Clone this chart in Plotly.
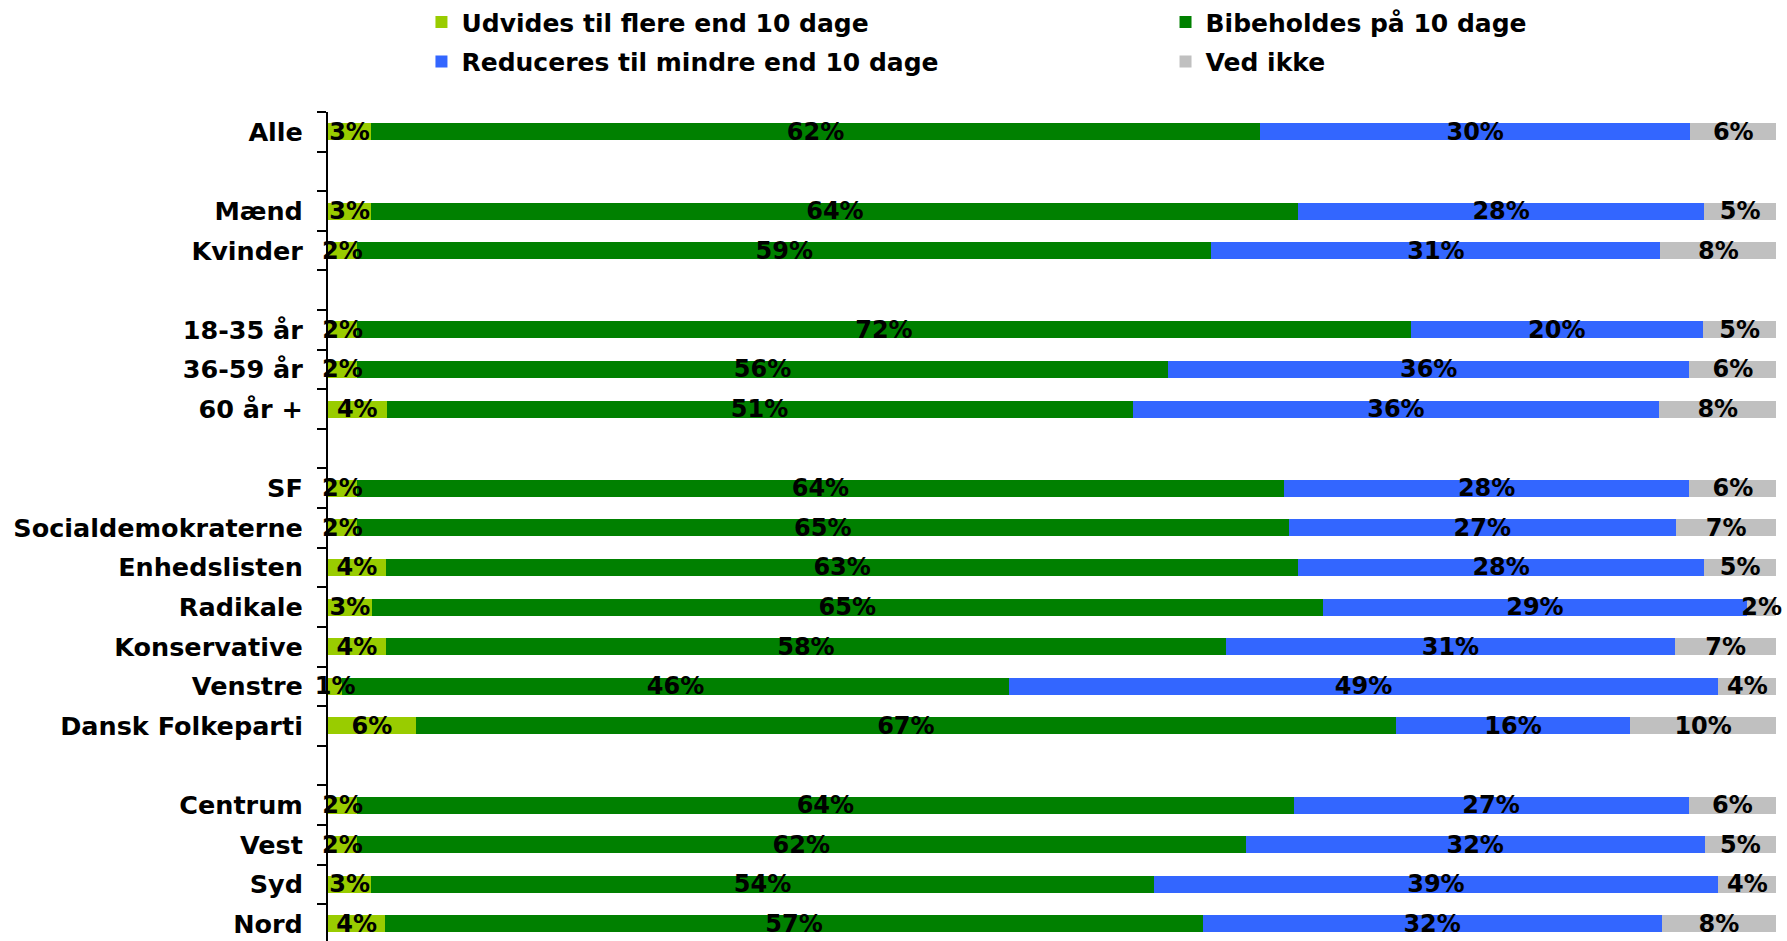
import plotly.graph_objects as go

# Categories (blank strings are the empty spacer rows of the original chart)
categories = [
    "Alle", " ", "Mænd", "Kvinder", "  ", "18-35 år", "36-59 år", "60 år +", "   ",
    "SF", "Socialdemokraterne", "Enhedslisten", "Radikale", "Konservative",
    "Venstre", "Dansk Folkeparti", "    ", "Centrum", "Vest", "Syd", "Nord",
]

udvides = [3, None, 3, 2, None, 2, 2, 4, None, 2, 2, 4, 3, 4, 1, 6, None, 2, 2, 3, 4]
bibeholdes = [62, None, 64, 59, None, 72, 56, 51, None, 64, 65, 63, 65, 58, 46, 67, None, 64, 62, 54, 57]
reduceres = [30, None, 28, 31, None, 20, 36, 36, None, 28, 27, 28, 29, 31, 49, 16, None, 27, 32, 39, 32]
ved_ikke = [6, None, 5, 8, None, 5, 6, 8, None, 6, 7, 5, 2, 7, 4, 10, None, 6, 5, 4, 8]

series_names = [
    "Udvides til flere end 10 dage",
    "Bibeholdes på 10 dage",
    "Reduceres til mindre end 10 dage",
    "Ved ikke",
]
series_values = [udvides, bibeholdes, reduceres, ved_ikke]
series_colors = ["#99CC00", "#008000", "#3366FF", "#C0C0C0"]
series_legend = ["legend", "legend2", "legend", "legend2"]

FONT = "DejaVu Sans"
BAR_W = 0.43
label_font = dict(family=FONT, size=24, color="black", weight="bold")

fig = go.Figure()
# coloured stacked bars
for name, vals, col, leg in zip(series_names, series_values, series_colors, series_legend):
    fig.add_trace(go.Bar(
        y=categories,
        x=vals,
        name=name,
        orientation="h",
        marker=dict(color=col, line=dict(width=0)),
        width=BAR_W,
        legend=leg,
        legendgroup=name,
        hoverinfo="name+x",
    ))

# identical transparent stack on an overlaying axis, carrying the value labels on top
for name, vals in zip(series_names, series_values):
    fig.add_trace(go.Bar(
        y=categories,
        x=vals,
        name=name,
        orientation="h",
        xaxis="x2",
        marker=dict(color="rgba(0,0,0,0)", line=dict(width=0)),
        width=BAR_W,
        text=["" if v is None else f"{v}%" for v in vals],
        textposition="inside",
        insidetextanchor="middle",
        textangle=0,
        constraintext="none",
        cliponaxis=False,
        textfont=label_font,
        insidetextfont=label_font,
        showlegend=False,
        hoverinfo="skip",
    ))

legend_common = dict(
    orientation="v",
    yanchor="top",
    xanchor="left",
    font=dict(family=FONT, size=25, color="black", weight="bold"),
    bgcolor="rgba(0,0,0,0)",
    tracegroupgap=4,
    traceorder="grouped",
)

hidden_x = dict(
    range=[0, 100.05],
    showticklabels=False,
    showgrid=False,
    zeroline=False,
    showline=False,
    ticks="",
    fixedrange=True,
)

fig.update_layout(
    width=1787,
    height=941,
    barmode="stack",
    barnorm="percent",
    paper_bgcolor="white",
    plot_bgcolor="white",
    margin=dict(l=328, r=10, t=112, b=0, autoexpand=False),
    showlegend=True,
    legend=dict(x=0.0645, y=1.136, **legend_common),
    legend2=dict(x=0.578, y=1.136, **legend_common),
    xaxis=hidden_x,
    xaxis2=dict(overlaying="x", side="bottom", **hidden_x),
    yaxis=dict(
        type="category",
        categoryorder="array",
        categoryarray=categories,
        range=[20.43, -0.5],
        showgrid=False,
        zeroline=False,
        showline=True,
        linecolor="black",
        linewidth=2,
        ticks="outside",
        tickson="boundaries",
        ticklen=9,
        tickwidth=2,
        tickcolor="black",
        ticklabelstandoff=18,
        tickfont=dict(family=FONT, size=25.5, color="black", weight="bold"),
        fixedrange=True,
    ),
)

fig.write_html(
    "out.html",
    config={"displayModeBar": False},
    post_script="document.body.style.margin='0';document.body.style.overflow='hidden';",
)
